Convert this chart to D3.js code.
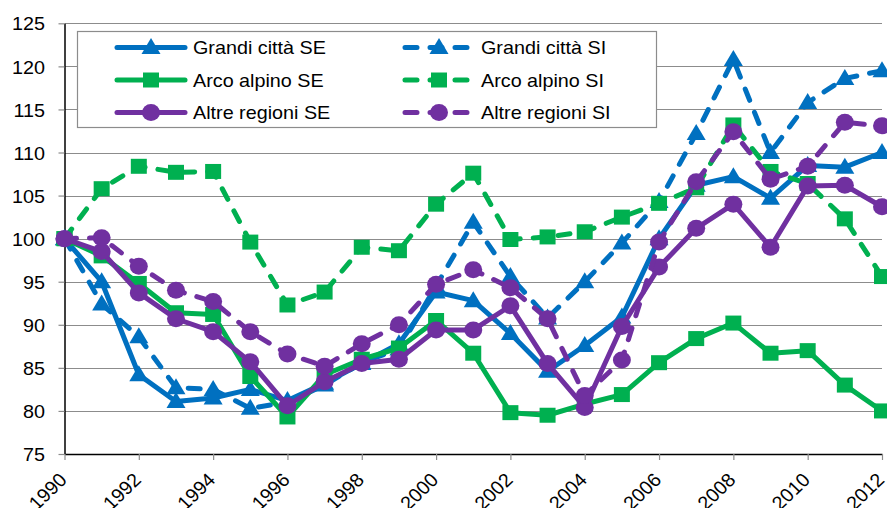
<!DOCTYPE html>
<html>
<head>
<meta charset="utf-8">
<script src="https://cdn.jsdelivr.net/npm/d3@7"></script>
<style>
  html, body { margin: 0; padding: 0; background: #fff; }
  svg { display: block; font-family: "Liberation Sans", Arial, sans-serif; }
</style>
</head>
<body>
<svg id="chart" width="887" height="508"></svg>
<script>
const years = d3.range(1990, 2013);
const yTicks = [75, 80, 85, 90, 95, 100, 105, 110, 115, 120, 125];
const xTicks = [1990, 1992, 1994, 1996, 1998, 2000, 2002, 2004, 2006, 2008, 2010, 2012];

const grandiSE = [100, 95.0, 84.2, 81.1, 81.5, 82.5, 81.2, 83.2, 85.5, 87.8, 93.8, 92.8, 89.0, 84.6, 87.6, 90.9, 100.0, 106.2, 107.2, 104.7, 108.5, 108.3, 110.0];
const grandiSI = [100, 92.4, 88.6, 82.7, 82.5, 80.3, 81.0, 83.0, 85.6, 87.2, 94.5, 101.9, 95.6, 90.8, 95.0, 99.5, 104.3, 112.2, 120.8, 110.0, 115.8, 118.6, 119.5];
const arcoSE = [100, 98.0, 94.8, 91.4, 91.2, 84.0, 79.3, 84.2, 86.0, 87.3, 90.5, 86.7, 79.8, 79.5, 80.8, 81.9, 85.6, 88.4, 90.2, 86.7, 87.0, 83.0, 80.0];
const arcoSI = [100, 105.8, 108.4, 107.7, 107.8, 99.6, 92.3, 93.8, 99.0, 98.6, 104.0, 107.6, 99.9, 100.2, 100.8, 102.5, 104.1, 105.9, 113.2, 107.8, 106.4, 102.3, 95.6];
const altreSE = [100, 98.5, 93.7, 90.7, 89.2, 85.7, 80.6, 83.4, 85.5, 86.0, 89.4, 89.4, 92.2, 85.5, 80.4, 89.8, 96.7, 101.2, 104.0, 99.0, 106.1, 106.2, 103.7];
const altreSI = [100, 100.1, 96.8, 94.0, 92.7, 89.2, 86.6, 85.2, 87.8, 90.0, 94.7, 96.4, 94.3, 90.7, 81.8, 85.9, 99.6, 106.6, 112.4, 106.9, 108.4, 113.5, 113.1];

const seriesNames = ["Grandi città SE", "Grandi città SI", "Arco alpino SE", "Arco alpino SI", "Altre regioni SE", "Altre regioni SI"];
const seriesValues = [grandiSE, grandiSI, arcoSE, arcoSI, altreSE, altreSI];
const seriesColors = ["#0070C0", "#0070C0", "#00B050", "#00B050", "#7030A0", "#7030A0"];
const seriesDashed = [false, true, false, true, false, true];
const seriesMarkers = ["triangle", "triangle", "square", "square", "circle", "circle"];

(function () {
const SX = 1.04;
const FS = 19;
const svg = d3.select("#chart");
const pLeft = 64.5, pRight = 882, pTop = 23.3, pBottom = 454;
const x = d3.scaleLinear().domain([1990, 2012]).range([pLeft, pRight]);
const y = d3.scaleLinear().domain([75, 125]).range([pBottom, pTop]);

// gridlines
svg.append("g").selectAll("line").data(yTicks.filter(t => t > 75)).join("line")
  .attr("x1", pLeft).attr("x2", pRight)
  .attr("y1", d => Math.round(y(d)) + 0.5).attr("y2", d => Math.round(y(d)) + 0.5)
  .attr("stroke", "#8c8c8c").attr("stroke-width", 1.2);

// y axis
const yAxis = svg.append("g").attr("transform", `translate(${pLeft},0)`)
  .call(d3.axisLeft(y).tickValues(yTicks).tickSize(6).tickSizeOuter(0));
yAxis.select(".domain").attr("stroke", "#000").attr("stroke-width", 1.5);
yAxis.selectAll(".tick line").attr("stroke", "#8c8c8c").attr("stroke-width", 1.2);
yAxis.selectAll(".tick text")
  .attr("x", 0).attr("dy", "0.35em")
  .attr("text-anchor", "end")
  .attr("transform", `translate(-19.5,0) scale(${SX},1)`)
  .attr("font-size", FS).attr("fill", "#000").attr("font-family", "Liberation Sans, Arial, sans-serif");

// x axis
const xAxis = svg.append("g").attr("transform", `translate(0,${pBottom})`)
  .call(d3.axisBottom(x).tickValues(xTicks).tickSize(6).tickSizeOuter(0).tickFormat(d3.format("d")));
xAxis.select(".domain").attr("stroke", "#000").attr("stroke-width", 1.5);
xAxis.selectAll(".tick line").attr("stroke", "#8c8c8c").attr("stroke-width", 1.2);
xAxis.selectAll(".tick text")
  .attr("x", 0).attr("y", 0).attr("dy", 0)
  .attr("text-anchor", "end")
  .attr("transform", `translate(3,27) scale(${SX},1) rotate(-45)`)
  .attr("font-size", FS).attr("fill", "#000").attr("font-family", "Liberation Sans, Arial, sans-serif");

function markerPath(type) {
  if (type === "triangle") return "M0,-9.5 L9.5,6.5 L-9.5,6.5 Z";
  if (type === "square") return "M-8,-7.5 H8 V7.5 H-8 Z";
  return null;
}
function drawMarker(g, type, cx, cy, color) {
  if (type === "circle") {
    g.append("ellipse").attr("cx", cx).attr("cy", cy).attr("rx", 9).attr("ry", 8.5).attr("fill", color);
  } else {
    g.append("path").attr("d", markerPath(type)).attr("transform", `translate(${cx},${cy})`).attr("fill", color);
  }
}

const line = d3.line().x((d, i) => x(years[i])).y(d => y(d));
const plot = svg.append("g");
seriesValues.forEach((vals, s) => {
  const g = plot.append("g");
  g.append("path").datum(vals).attr("d", line)
    .attr("fill", "none").attr("stroke", seriesColors[s]).attr("stroke-width", 5)
    .attr("stroke-linejoin", "round").attr("stroke-linecap", "round")
    .attr("stroke-dasharray", seriesDashed[s] ? "12,13" : null);
  vals.forEach((v, i) => drawMarker(g, seriesMarkers[s], x(years[i]), y(v), seriesColors[s]));
});

// legend
const lg = svg.append("g");
lg.append("rect").attr("x", 77.5).attr("y", 31.5).attr("width", 579).attr("height", 96)
  .attr("fill", "#fff").attr("stroke", "#8c8c8c").attr("stroke-width", 1.2);
const colX = [117, 405];
const rowY = [47.5, 80, 112.5];
seriesNames.forEach((name, s) => {
  const col = s % 2, row = Math.floor(s / 2);
  const x0 = colX[col], yy = rowY[row];
  lg.append("line").attr("x1", x0).attr("x2", x0 + 68).attr("y1", yy).attr("y2", yy)
    .attr("stroke", seriesColors[s]).attr("stroke-width", 5).attr("stroke-linecap", "round")
    .attr("stroke-dasharray", seriesDashed[s] ? "12,13" : null);
  drawMarker(lg, seriesMarkers[s], x0 + 34, yy, seriesColors[s]);
  lg.append("text").attr("x", 0).attr("y", 0).attr("dy", "0.36em")
    .attr("transform", `translate(${x0 + 76},${yy}) scale(${SX},1)`)
    .attr("font-size", FS).attr("fill", "#000").text(name);
});
})();
</script>
</body>
</html>
